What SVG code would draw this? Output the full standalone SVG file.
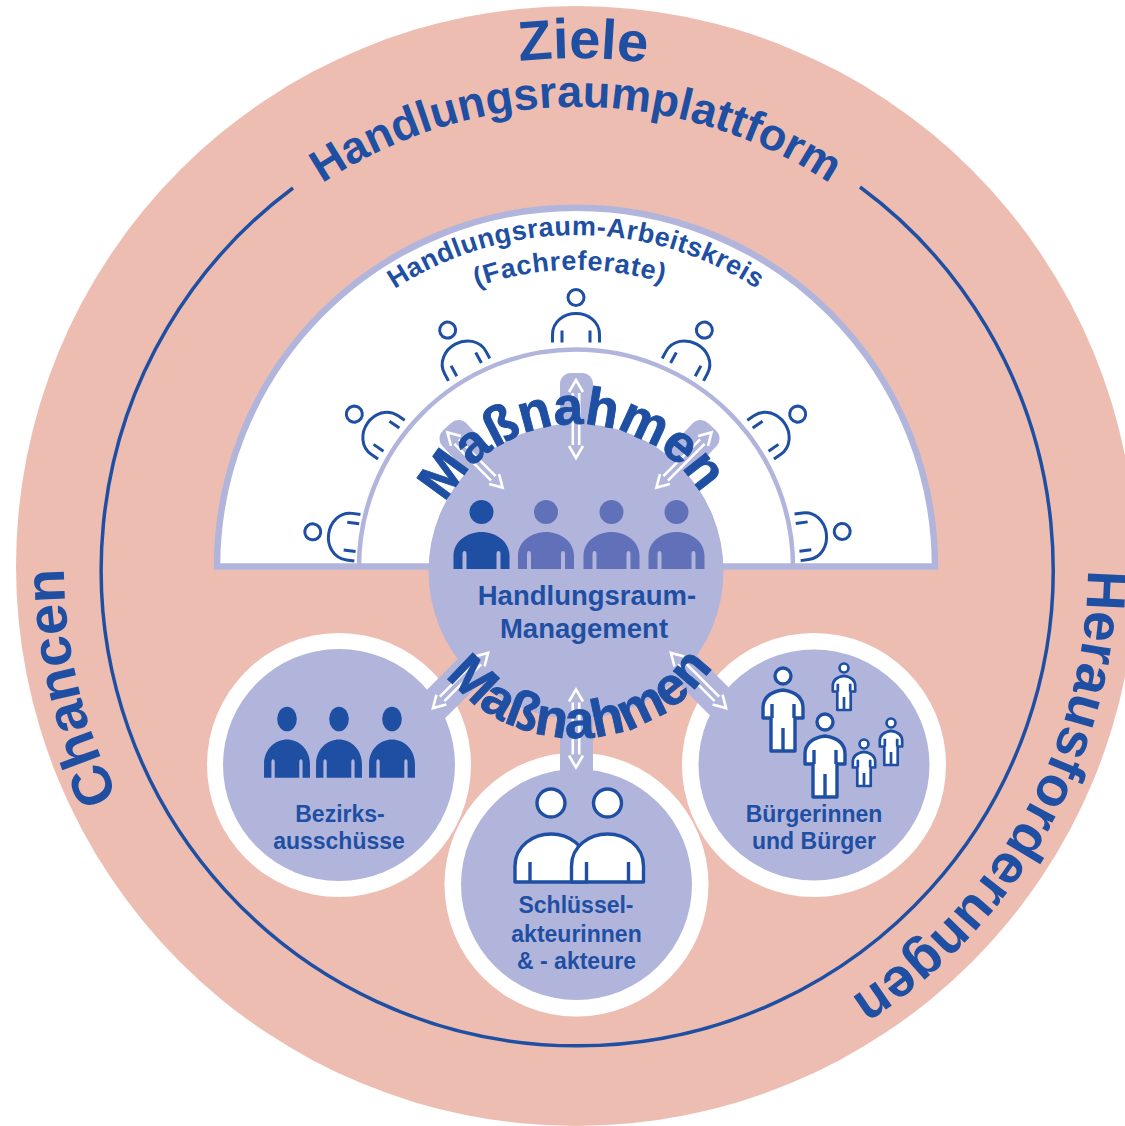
<svg xmlns="http://www.w3.org/2000/svg" width="1125" height="1126" viewBox="0 0 1125 1126">
<style>
.t{font-family:"Liberation Sans",Arial,sans-serif;font-weight:700;fill:#1f4fa3}
.c{text-anchor:middle}
.lbl{font-size:23px}
.mgmt{font-size:27.5px}
.big{font-size:56px}
.heavy{stroke:#1f4fa3;stroke-width:.9}
.lil{fill:#b1b5dc}
.wht{fill:#fff}
.ol{fill:none;stroke:#1f4fa3;stroke-width:3;stroke-linecap:butt}
.olw{fill:#fff;stroke:#1f4fa3;stroke-width:3.4;stroke-linejoin:round}
.ols{fill:#fff;stroke:#1f4fa3;stroke-width:4.8;stroke-linejoin:round}
.arr{fill:none;stroke:#fff;stroke-width:2.6}
</style>
<defs>
<path id="pZiele" d="M139.6 306A508 508 0 0 1 1019.4 318.2"/>
<path id="pPlatt" d="M178.5 336.5A459 459 0 0 1 973.5 336.5"/>
<path id="pChancen" d="M430.6 1056.9A512 512 0 0 1 223.5 194.6"/>
<path id="pHeraus" d="M968.2 236.9A512 512 0 0 1 504.7 1073"/>
<path id="pKreis" d="M289.4 400.5A331 331 0 0 1 862.6 400.5"/>
<path id="pFach" d="M319 418A297 297 0 0 1 833 418"/>
<path id="pMassT" d="M450 646.7A147 147 0 1 1 704.6 642.3"/>
<path id="pMassB" d="M428.7 492.4A167 167 0 1 0 717.8 482.8"/>
<g id="seat" class="ol"><circle r="8"/><path d="M-23.5 45V37C-23.5 24-12 16 0 16C12 16 23.5 24 23.5 37V45M-14 33V45M14 33V45"/></g>
<g id="solid"><ellipse rx="12" ry="12"/><path d="M-28 57V44C-28 29-14 20 0 20C14 20 28 29 28 44V57H19V42Q19 39 17 39Q15 39 15 42V57H-15V42Q-15 39-17 39Q-19 39-19 42V57Z"/></g>
<g id="duo"><circle cy="-31" r="14"/><path d="M-36 48V32C-36 12-18 0 0 0C18 0 36 12 36 32V48Z"/><path d="M-21 28V48M21 28V48"/></g>
<g id="citizen"><circle r="8"/><path d="M-20 42V32Q-20 17 0 14Q20 17 20 32V42H12V75H-12V42Z"/><path d="M-11 42V28M11 42V28M0 75V52"/></g>
<g id="arrow" class="arr"><path d="M-7-27L0-39L7-27M-7 27L0 39L7 27M-3.2-26V26M3.2-26V26"/></g>
</defs>
<rect width="1125" height="1126" fill="#fff"/>
<circle cx="576" cy="566" r="560" fill="#eebdb2"/>
<g id="platform-ring"><path d="M293 188A476 476 0 1 0 860 187" fill="none" stroke="#1f4fa3" stroke-width="3.5"/></g>
<g id="arbeitskreis">
<path d="M217 566.5A359 359 0 0 1 935 566.5Z" fill="#fff" stroke="#b1b5dc" stroke-width="6.5"/>
<use href="#seat" transform="rotate(-82.5 576 566.5) translate(576 301)"/>
<use href="#seat" transform="rotate(-55.5 576 566.5) translate(576 297.5)"/>
<use href="#seat" transform="rotate(-28.5 576 566.5) translate(576 297.5)"/>
<use href="#seat" transform="translate(576 297.5)"/>
<use href="#seat" transform="rotate(28.5 576 566.5) translate(576 297.5)"/>
<use href="#seat" transform="rotate(55.5 576 566.5) translate(576 297.5)"/>
<use href="#seat" transform="rotate(82.5 576 566.5) translate(576 298)"/>
<path d="M359 566.5A217 217 0 0 1 793 566.5" fill="none" stroke="#b1b5dc" stroke-width="4.5"/>
<text class="t" font-size="27" letter-spacing=".5"><textPath href="#pKreis" startOffset="50%" text-anchor="middle">Handlungsraum-Arbeitskreis</textPath></text>
<text class="t" font-size="27" letter-spacing=".7"><textPath href="#pFach" startOffset="49%" text-anchor="middle">(Fachreferate)</textPath></text>
</g>
<g id="bezirk-ring"><circle cx="339" cy="765" r="132" class="wht"/></g>
<g id="schluessel-ring"><circle cx="576.5" cy="884.5" r="132" class="wht"/></g>
<g id="buerger-ring"><circle cx="814" cy="765" r="132" class="wht"/></g>
<g id="connectors">
<rect x="-16.5" y="-44" width="33" height="112" rx="11" class="lil" transform="translate(477 459) rotate(-43)"/>
<rect x="560" y="373" width="33" height="100" rx="11" class="lil"/>
<rect x="-16.5" y="-44" width="33" height="112" rx="11" class="lil" transform="translate(682 459) rotate(43)"/>
<rect x="-16.5" y="-60" width="33" height="105" class="lil" transform="translate(460 680) rotate(45)"/>
<rect x="560" y="690" width="33" height="90" class="lil"/>
<rect x="-16.5" y="-60" width="33" height="105" class="lil" transform="translate(698 680) rotate(-45)"/>
</g>
<g id="management">
<circle cx="576" cy="571" r="147.5" class="lil"/>
<use href="#solid" fill="#1f4fa3" transform="translate(481.5 512)"/>
<use href="#solid" fill="#6071ba" transform="translate(546 512)"/>
<use href="#solid" fill="#6071ba" transform="translate(611.5 512)"/>
<use href="#solid" fill="#6071ba" transform="translate(676.5 512)"/>
<text class="t c mgmt" x="587" y="605">Handlungsraum-</text>
<text class="t c mgmt" x="584" y="638">Management</text>
</g>
<g id="bezirksausschuesse">
<circle cx="339" cy="765" r="116" class="lil"/>
<use href="#solid" fill="#1f4fa3" transform="translate(287 719) scale(.82 1.03)"/>
<use href="#solid" fill="#1f4fa3" transform="translate(339 719) scale(.82 1.03)"/>
<use href="#solid" fill="#1f4fa3" transform="translate(392 719) scale(.82 1.03)"/>
<text class="t c lbl" x="340" y="822">Bezirks-</text>
<text class="t c lbl" x="339" y="849">ausschüsse</text>
</g>
<g id="schluesselakteure">
<circle cx="576.5" cy="884.5" r="115.5" class="lil"/>
<use href="#duo" class="olw" transform="translate(551 834)"/>
<use href="#duo" class="olw" transform="translate(607.5 834)"/>
<text class="t c lbl" x="576" y="913">Schlüssel-</text>
<text class="t c lbl" x="576.5" y="942">akteurinnen</text>
<text class="t c lbl" x="576.5" y="969">&amp; - akteure</text>
</g>
<g id="buerger">
<circle cx="814" cy="765" r="115.5" class="lil"/>
<use href="#citizen" class="olw" transform="translate(783 676)"/>
<use href="#citizen" class="olw" transform="translate(825 722)"/>
<use href="#citizen" class="ols" transform="translate(844 668) scale(.56)"/>
<use href="#citizen" class="ols" transform="translate(891 723) scale(.56)"/>
<use href="#citizen" class="ols" transform="translate(864 744) scale(.56)"/>
<text class="t c lbl" x="814" y="822">Bürgerinnen</text>
<text class="t c lbl" x="814" y="849">und Bürger</text>
</g>
<g id="arrows">
<use href="#arrow" transform="translate(475 460) rotate(-45)"/>
<use href="#arrow" transform="translate(576 419)"/>
<use href="#arrow" transform="translate(684 460) rotate(45)"/>
<use href="#arrow" transform="translate(460.5 680.5) rotate(45)"/>
<use href="#arrow" transform="translate(576 728.5)"/>
<use href="#arrow" transform="translate(698.5 680.5) rotate(-45)"/>
</g>
<g id="labels">
<text class="t big"><textPath href="#pZiele" startOffset="50%" text-anchor="middle">Ziele</textPath></text>
<text class="t" font-size="45"><textPath href="#pPlatt" startOffset="50%" text-anchor="middle">Handlungsraumplattform</textPath></text>
<text class="t big"><textPath href="#pChancen" startOffset="50%" text-anchor="middle">Chancen</textPath></text>
<text class="t" font-size="55"><textPath href="#pHeraus" startOffset="50%" text-anchor="middle">Herausforderungen</textPath></text>
<text class="t heavy" font-size="53"><textPath href="#pMassT" startOffset="49.5%" text-anchor="middle">Maßnahmen</textPath></text>
<text class="t heavy" font-size="53"><textPath href="#pMassB" startOffset="50%" text-anchor="middle">Maßnahmen</textPath></text>
</g>
</svg>
